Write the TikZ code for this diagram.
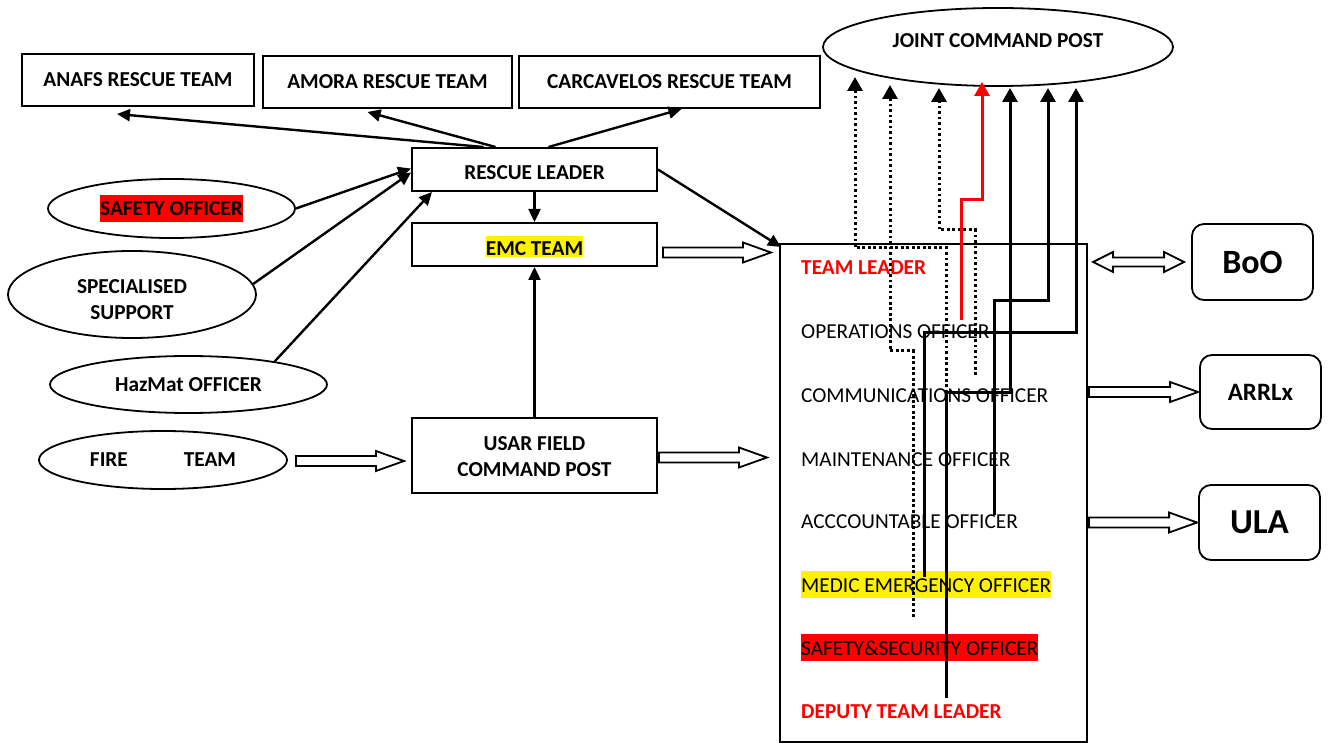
\documentclass[tikz,border=0pt]{standalone}
\usepackage{fontspec}
\setmainfont{Carlito}
\usetikzlibrary{arrows.meta,shapes.geometric,calc}
\newcommand{\hl}[2]{{\setlength{\fboxsep}{0pt}\colorbox{#1}{\rule[-6pt]{0pt}{27pt}#2}}}
\newcommand{\hlE}[2]{{\setlength{\fboxsep}{0pt}\colorbox{#1}{\rule[-1pt]{0pt}{21pt}#2}}}
\newcommand{\sz}{\fontsize{21.3}{26}\selectfont}
\newcommand{\hollowR}[2]{\draw[hollow] let \p1=#1, \p2=#2 in
  (\x1,\y1+5pt) -- (\x2-28pt,\y1+5pt) -- (\x2-28pt,\y1+10pt) -- (\x2,\y1) --
  (\x2-28pt,\y1-10pt) -- (\x2-28pt,\y1-5pt) -- (\x1,\y1-5pt) -- cycle;}
\newcommand{\hollowLR}[2]{\draw[hollow] let \p1=#1, \p2=#2 in
  (\x1,\y1) -- (\x1+20pt,\y1+10pt) -- (\x1+20pt,\y1+4.5pt) -- (\x2-20pt,\y1+4.5pt) --
  (\x2-20pt,\y1+10pt) -- (\x2,\y1) -- (\x2-20pt,\y1-10pt) -- (\x2-20pt,\y1-4.5pt) --
  (\x1+20pt,\y1-4.5pt) -- (\x1+20pt,\y1-10pt) -- cycle;}
\begin{document}
\begin{tikzpicture}[x=1pt,y=-1pt,
  font=\sz,
  box/.style={draw,line width=2pt,inner sep=0pt,font=\sz\bfseries,align=center},
  oval/.style={draw,ellipse,line width=1.8pt,inner sep=0pt,font=\sz\bfseries,align=center},
  rbox/.style={draw,rounded corners=12pt,line width=1.8pt,inner sep=0pt},
  conn/.style={line width=2.4pt,-{Triangle[length=13pt,width=12pt]}},
  jarrow/.style={line width=3pt,-{Triangle[length=14pt,width=15pt]}},
  jdots/.style={jarrow,dash pattern=on 2.7pt off 2.8pt},
  hollow/.style={draw,fill=white,line width=1.8pt,line join=miter},
  row/.style={anchor=base west,inner sep=0pt,font=\sz}
]
\useasboundingbox (0,0) rectangle (1331,743);

% top boxes
\node[box,minimum width=232,minimum height=52] (anafs) at (138,80) {ANAFS RESCUE TEAM};
\node[box,minimum width=249,minimum height=52] (amora) at (387.5,82) {AMORA RESCUE TEAM};
\node[box,minimum width=301,minimum height=52] (carc) at (669.5,82) {CARCAVELOS RESCUE TEAM};

% centre column
\node[box,minimum width=245,minimum height=43,text height=21pt,text depth=0pt] (leader) at (534.5,169.5) {RESCUE LEADER};
\node[box,minimum width=245,minimum height=43] (emc) at (534.5,244.5) {\raisebox{-2pt}[\height][\depth]{\hlE{yellow}{EMC TEAM}}};
\node[box,minimum width=245,minimum height=75] (usar) at (534.5,455.5) {\raisebox{-3pt}[\height][\depth]{\begin{tabular}{@{}c@{}}USAR FIELD\\COMMAND POST\end{tabular}}};

% left ovals
\node[oval,minimum width=247,minimum height=59] (safety) at (171.5,208.5) {\hl{red}{SAFETY OFFICER}};
\node[oval,minimum width=248,minimum height=87] (spec) at (132,294.5) {\raisebox{-7pt}[\height][\depth]{\begin{tabular}{@{}c@{}}SPECIALISED\\SUPPORT\end{tabular}}};
\node[oval,minimum width=277,minimum height=57] (hazmat) at (188.5,384.5) {HazMat OFFICER};
\node[oval,minimum width=248,minimum height=58] (fire) at (163,460) {FIRE\hspace{56pt}TEAM};

% joint command post
\node[oval,minimum width=350,minimum height=78,text height=14pt,text depth=13pt] (jcp) at (998,47) {JOINT COMMAND POST};

% right rounded boxes
\node[rbox,minimum width=121,minimum height=76,font=\fontsize{34}{40}\selectfont\bfseries] (boo) at (1252.5,262) {BoO};
\node[rbox,minimum width=121,minimum height=74,font=\fontsize{25}{30}\selectfont\bfseries] (arrl) at (1260.5,392) {ARRLx};
\node[rbox,minimum width=121,minimum height=75,font=\fontsize{35}{40}\selectfont\bfseries] (ula) at (1259.5,522.5) {ULA};

% team box
\node[draw,line width=2pt,minimum width=307,minimum height=498,inner sep=0pt] (team) at (933.5,493) {};
\node[row,text=red,font=\sz\bfseries] (r1) at (801,275) {TEAM LEADER};
\node[row] (r2) at (801,338) {OPERATIONS OFFICER};
\node[row] (r3) at (801,402) {COMMUNICATIONS OFFICER};
\node[row] (r4) at (801,466) {MAINTENANCE OFFICER};
\node[row] (r5) at (801,528) {ACCCOUNTABLE OFFICER};
\node[row] (r6) at (801,592) {\hl{yellow}{MEDIC EMERGENCY OFFICER}};
\node[row] (r7) at (801,655) {\hl{red}{SAFETY\&SECURITY OFFICER}};
\node[row,text=red,font=\sz\bfseries] (r8) at (801,718) {DEPUTY TEAM LEADER};

% rescue leader connectors
\draw[conn] ($(leader.north)+(-51,0)$) -- ($(anafs.south)+(-21,7)$);
\draw[conn] ($(leader.north)+(-39,0)$) -- ($(amora.south)+(-20,3)$);
\draw[conn] ($(leader.north)+(14,0)$) -- ($(carc.south)+(12,0)$);
\draw[conn] (safety.east) -- ($(leader.west)+(0,-1)$);
\draw[conn] (spec.5) -- ($(leader.west)+(0,3)$);
\draw[conn] (hazmat.15) -- ($(leader.south)+(-102.5,0)$);
\draw[conn] (leader) -- (emc);
\draw[conn] (usar) -- (emc);
\draw[conn] (leader.east) -- ($(team.north west)+(2,4)$);

% hollow arrows
\hollowR{($(fire.east)+(8,1)$)}{($(usar.west)+(-7,0)$)}
\hollowR{($(emc.east)+(5,8)$)}{($(team.north west)+(-8,0)$)}
\hollowR{($(usar.east)+(1,2)$)}{($(team.west)+(-12,0)$)}
\hollowR{($(team.east |- arrl.west)+(1,0)$)}{($(arrl.west)+(-1,0)$)}
\hollowR{($(team.east |- ula.west)+(1,0)$)}{($(ula.west)+(-1,0)$)}
\hollowLR{($(team.east |- boo.west)+(5,0)$)}{($(boo.west)+(-7,0)$)}

% connectors to joint command post
\coordinate (s1) at (946,420);  \coordinate (t1) at (855,77);
\coordinate (s2) at (913,617);  \coordinate (t2) at (890,85);
\coordinate (s3) at (975,375);  \coordinate (t3) at (939,88);
\coordinate (s4) at (961,320);  \coordinate (t4) at (982,82);
\coordinate (s5) at (946,698);  \coordinate (t5) at (1010,88);
\coordinate (s6) at (994,515);  \coordinate (t6) at (1048,88);
\coordinate (s7) at (924,577);  \coordinate (t7) at (1076,88);
\draw[jdots] (s1) |- (855,248) -- (t1);
\draw[jdots] (s2) |- (890,351) -- (t2);
\draw[jdots] (s3) |- (939,230) -- (t3);
\draw[jarrow,red] (s4) |- (982,200) -- (t4);
\draw[jarrow] (s5) |- (1010,392) -- (t5);
\draw[jarrow] (s6) |- (1048,301) -- (t6);
\draw[jarrow] (s7) |- (1076,333) -- (t7);
\end{tikzpicture}
\end{document}
